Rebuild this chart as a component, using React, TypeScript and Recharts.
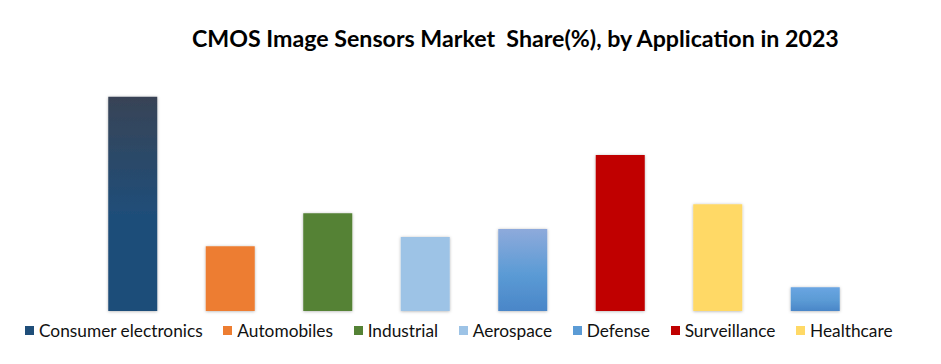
import { Bar, BarChart, Cell, Legend, XAxis, YAxis } from "recharts";

const title = "CMOS Image Sensors Market  Share(%), by Application in 2023";

// 8 bars, the last one has no entry in the legend
const categories = [
  "Consumer electronics",
  "Automobiles",
  "Industrial",
  "Aerospace",
  "Defense",
  "Surveillance",
  "Healthcare",
  "",
];
const shares = [26.1, 7.9, 11.9, 9.0, 10.0, 19.0, 13.0, 2.9];

// [top, bottom] of each bar's vertical gradient
const barColors: [string, string][] = [
  ["#384356", "#1f4e79"],
  ["#ed7d31", "#ed7d31"],
  ["#548235", "#548235"],
  ["#9dc3e6", "#9dc3e6"],
  ["#8eaadb", "#4a86c8"],
  ["#c00000", "#c00000"],
  ["#ffd966", "#ffd966"],
  ["#6aa5e2", "#4a86c8"],
];
const legendColors = ["#1f4e79", "#ed7d31", "#548235", "#9dc3e6", "#5b9bd5", "#c00000", "#ffd966"];

const data = categories.map((name, i) => ({ name, share: shares[i] }));

const FONT = "Lato, 'Noto Sans', sans-serif";

function LegendContent() {
  return (
    <div
      style={{
        height: 39,
        display: "flex",
        alignItems: "center",
        paddingLeft: 25,
        fontFamily: FONT,
        fontSize: 17.3,
        color: "#111",
        whiteSpace: "nowrap",
      }}
    >
      {legendColors.map((c, i) => (
        <span key={i} style={{ display: "flex", alignItems: "center", marginRight: 20.7 }}>
          <span style={{ width: 9, height: 9, background: c, marginRight: 5, display: "inline-block" }} />
          {categories[i]}
        </span>
      ))}
    </div>
  );
}

export default function App() {
  return (
    <div style={{ position: "absolute", left: 0, top: 0, width: 941, height: 364, background: "#fff" }}>
      <div
        style={{
          position: "absolute",
          top: 24,
          left: 192,
          fontFamily: FONT,
          fontWeight: 700,
          fontSize: 23.2,
          color: "#000",
          whiteSpace: "pre",
        }}
      >
        {title}
      </div>
      <BarChart
        width={941}
        height={364}
        data={data}
        margin={{ top: 64.7, right: 76.75, left: 84.25, bottom: 14 }}
      >
        <defs>
          {barColors.map(([top, bottom], i) => (
            <linearGradient key={i} id={`grad${i}`} x1="0" y1="0" x2="0" y2="1">
              <stop offset="0%" stopColor={top} />
              <stop offset="55%" stopColor={i === 0 ? bottom : top === bottom ? top : "#5b9bd5"} />
              <stop offset="100%" stopColor={bottom} />
            </linearGradient>
          ))}
          <filter id="barShadow" x="-20%" y="-10%" width="140%" height="120%">
            <feDropShadow dx="0" dy="0.5" stdDeviation="1.5" floodColor="#000" floodOpacity="0.3" />
          </filter>
        </defs>
        <XAxis dataKey="name" hide />
        <YAxis domain={[0, 30]} hide />
        <Legend verticalAlign="bottom" content={() => <LegendContent />} wrapperStyle={{ left: 0, width: 941 }} />
        <Bar dataKey="share" barSize={49} isAnimationActive={false} filter="url(#barShadow)">
          {data.map((_, i) => (
            <Cell key={i} fill={`url(#grad${i})`} />
          ))}
        </Bar>
      </BarChart>
    </div>
  );
}
